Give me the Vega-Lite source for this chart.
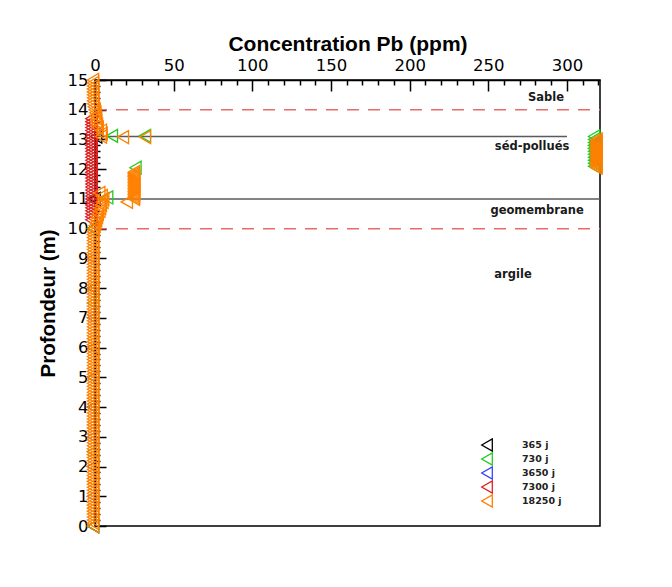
{
  "$schema": "https://vega.github.io/schema/vega-lite/v6.json",
  "autosize": {"type": "none"},
  "width": 505,
  "height": 446,
  "padding": {"left": 95, "top": 80, "right": 72, "bottom": 61},
  "background": "white",
  "config": {
    "font": "Liberation Sans",
    "view": {"stroke": "black", "strokeWidth": 1.5},
    "axis": {"domainColor": "black", "domainWidth": 1.5, "tickColor": "black", "tickWidth": 1.5, "labelColor": "black", "titleColor": "black", "grid": false, "labelFont": "DejaVu Sans", "titleFont": "Liberation Sans"}
  },
  "resolve": {"axis": {"x": "independent", "y": "independent"}},
  "layer": [
    {
      "data": {"values": [{"d": 14, "a": 0, "b": 321}, {"d": 10, "a": 0, "b": 321}]},
      "mark": {"type": "rule", "color": "#e86a6a", "strokeWidth": 1.5, "strokeDash": [12, 9]},
      "encoding": {
        "x": {"field": "a", "type": "quantitative", "scale": {"domain": [0, 321], "nice": false, "zero": false},
              "axis": {"orient": "top", "title": null, "values": [10,20,30,40,60,70,80,90,110,120,130,140,160,170,180,190,210,220,230,240,260,270,280,290,310,320], "labels": false, "domain": false, "tickSize": -5}},
        "x2": {"field": "b"},
        "y": {"field": "d", "type": "quantitative", "scale": {"domain": [0, 15], "nice": false, "zero": false},
              "axis": {"orient": "left", "title": null, "labels": false, "domain": false, "tickSize": -5,
                       "values": [0.2,0.4,0.6,0.8,1.2,1.4,1.6,1.8,2.2,2.4,2.6,2.8,3.2,3.4,3.6,3.8,4.2,4.4,4.6,4.8,5.2,5.4,5.6,5.8,6.2,6.4,6.6,6.8,7.2,7.4,7.6,7.8,8.2,8.4,8.6,8.8,9.2,9.4,9.6,9.8,10.2,10.4,10.6,10.8,11.2,11.4,11.6,11.8,12.2,12.4,12.6,12.8,13.2,13.4,13.6,13.8,14.2,14.4,14.6,14.8]}}
      }
    },
    {
      "data": {"values": [{"d": 13.1, "a": 0, "b": 300}, {"d": 11.0, "a": 0, "b": 321}]},
      "mark": {"type": "rule", "color": "#5a5a5a", "strokeWidth": 1.5},
      "encoding": {
        "x": {"field": "a", "type": "quantitative", "axis": null},
        "x2": {"field": "b"},
        "y": {"field": "d", "type": "quantitative", "axis": null}
      }
    },
    {
      "data": {"values": [
        {"t":"365 j","d":0,"c":0},{"t":"365 j","d":2,"c":0},{"t":"365 j","d":4,"c":0},{"t":"365 j","d":6,"c":0},{"t":"365 j","d":8,"c":0},{"t":"365 j","d":10,"c":0},
        {"t":"365 j","d":12.3,"c":320},{"t":"365 j","d":12.6,"c":320},{"t":"365 j","d":12.9,"c":320},{"t":"365 j","d":13.1,"c":2},{"t":"365 j","d":11.0,"c":1},
        {"t":"730 j","d":0,"c":0},{"t":"730 j","d":2.5,"c":0},{"t":"730 j","d":5,"c":0},{"t":"730 j","d":7.5,"c":0},{"t":"730 j","d":10,"c":0},
        {"t":"730 j","d":13.12,"c":12},{"t":"730 j","d":13.12,"c":33},{"t":"730 j","d":12.05,"c":27},{"t":"730 j","d":11.05,"c":9},
        {"t":"730 j","d":12.1,"c":318.5},{"t":"730 j","d":12.2,"c":318.5},{"t":"730 j","d":12.3,"c":318.5},{"t":"730 j","d":12.4,"c":318.5},{"t":"730 j","d":12.5,"c":318.5},{"t":"730 j","d":12.6,"c":318.5},{"t":"730 j","d":12.7,"c":318.5},{"t":"730 j","d":12.8,"c":318.5},{"t":"730 j","d":12.9,"c":318.5},{"t":"730 j","d":13.0,"c":318.5},{"t":"730 j","d":13.1,"c":318.5},
        {"t":"3650 j","d":1,"c":0},{"t":"3650 j","d":3,"c":0},{"t":"3650 j","d":5,"c":0},{"t":"3650 j","d":7,"c":0},{"t":"3650 j","d":9,"c":0},{"t":"3650 j","d":12.4,"c":320},{"t":"3650 j","d":12.8,"c":320},
        {"t":"7300 j","d":10.3,"c":-1},{"t":"7300 j","d":10.4,"c":-1},{"t":"7300 j","d":10.5,"c":-1},{"t":"7300 j","d":10.6,"c":-1},{"t":"7300 j","d":10.7,"c":-1},{"t":"7300 j","d":10.8,"c":-1},{"t":"7300 j","d":10.9,"c":-1},
        {"t":"7300 j","d":11.0,"c":-1},{"t":"7300 j","d":11.1,"c":-1},{"t":"7300 j","d":11.2,"c":-1},{"t":"7300 j","d":11.3,"c":-1},{"t":"7300 j","d":11.4,"c":-1},{"t":"7300 j","d":11.5,"c":-1},{"t":"7300 j","d":11.6,"c":-1},{"t":"7300 j","d":11.7,"c":-1},{"t":"7300 j","d":11.8,"c":-1},{"t":"7300 j","d":11.9,"c":-1},
        {"t":"7300 j","d":12.0,"c":-1},{"t":"7300 j","d":12.1,"c":-1},{"t":"7300 j","d":12.2,"c":-1},{"t":"7300 j","d":12.3,"c":-1},{"t":"7300 j","d":12.4,"c":-1},{"t":"7300 j","d":12.5,"c":-1},{"t":"7300 j","d":12.6,"c":-1},{"t":"7300 j","d":12.7,"c":-1},{"t":"7300 j","d":12.8,"c":-1},{"t":"7300 j","d":12.9,"c":-1},
        {"t":"7300 j","d":13.0,"c":-1},{"t":"7300 j","d":13.1,"c":-1},{"t":"7300 j","d":13.2,"c":-1},{"t":"7300 j","d":13.3,"c":-1},{"t":"7300 j","d":13.4,"c":-1},{"t":"7300 j","d":13.5,"c":-1},{"t":"7300 j","d":13.6,"c":-1},{"t":"7300 j","d":13.7,"c":-1},
        {"t":"18250 j","d":0.0,"c":0},{"t":"18250 j","d":0.1,"c":0},{"t":"18250 j","d":0.2,"c":0},{"t":"18250 j","d":0.3,"c":0},{"t":"18250 j","d":0.4,"c":0},{"t":"18250 j","d":0.5,"c":0},{"t":"18250 j","d":0.6,"c":0},{"t":"18250 j","d":0.7,"c":0},{"t":"18250 j","d":0.8,"c":0},{"t":"18250 j","d":0.9,"c":0},
        {"t":"18250 j","d":1.0,"c":0},{"t":"18250 j","d":1.1,"c":0},{"t":"18250 j","d":1.2,"c":0},{"t":"18250 j","d":1.3,"c":0},{"t":"18250 j","d":1.4,"c":0},{"t":"18250 j","d":1.5,"c":0},{"t":"18250 j","d":1.6,"c":0},{"t":"18250 j","d":1.7,"c":0},{"t":"18250 j","d":1.8,"c":0},{"t":"18250 j","d":1.9,"c":0},
        {"t":"18250 j","d":2.0,"c":0},{"t":"18250 j","d":2.1,"c":0},{"t":"18250 j","d":2.2,"c":0},{"t":"18250 j","d":2.3,"c":0},{"t":"18250 j","d":2.4,"c":0},{"t":"18250 j","d":2.5,"c":0},{"t":"18250 j","d":2.6,"c":0},{"t":"18250 j","d":2.7,"c":0},{"t":"18250 j","d":2.8,"c":0},{"t":"18250 j","d":2.9,"c":0},
        {"t":"18250 j","d":3.0,"c":0},{"t":"18250 j","d":3.1,"c":0},{"t":"18250 j","d":3.2,"c":0},{"t":"18250 j","d":3.3,"c":0},{"t":"18250 j","d":3.4,"c":0},{"t":"18250 j","d":3.5,"c":0},{"t":"18250 j","d":3.6,"c":0},{"t":"18250 j","d":3.7,"c":0},{"t":"18250 j","d":3.8,"c":0},{"t":"18250 j","d":3.9,"c":0},
        {"t":"18250 j","d":4.0,"c":0},{"t":"18250 j","d":4.1,"c":0},{"t":"18250 j","d":4.2,"c":0},{"t":"18250 j","d":4.3,"c":0},{"t":"18250 j","d":4.4,"c":0},{"t":"18250 j","d":4.5,"c":0},{"t":"18250 j","d":4.6,"c":0},{"t":"18250 j","d":4.7,"c":0},{"t":"18250 j","d":4.8,"c":0},{"t":"18250 j","d":4.9,"c":0},
        {"t":"18250 j","d":5.0,"c":0},{"t":"18250 j","d":5.1,"c":0},{"t":"18250 j","d":5.2,"c":0},{"t":"18250 j","d":5.3,"c":0},{"t":"18250 j","d":5.4,"c":0},{"t":"18250 j","d":5.5,"c":0},{"t":"18250 j","d":5.6,"c":0},{"t":"18250 j","d":5.7,"c":0},{"t":"18250 j","d":5.8,"c":0},{"t":"18250 j","d":5.9,"c":0},
        {"t":"18250 j","d":6.0,"c":0},{"t":"18250 j","d":6.1,"c":0},{"t":"18250 j","d":6.2,"c":0},{"t":"18250 j","d":6.3,"c":0},{"t":"18250 j","d":6.4,"c":0},{"t":"18250 j","d":6.5,"c":0},{"t":"18250 j","d":6.6,"c":0},{"t":"18250 j","d":6.7,"c":0},{"t":"18250 j","d":6.8,"c":0},{"t":"18250 j","d":6.9,"c":0},
        {"t":"18250 j","d":7.0,"c":0},{"t":"18250 j","d":7.1,"c":0},{"t":"18250 j","d":7.2,"c":0},{"t":"18250 j","d":7.3,"c":0},{"t":"18250 j","d":7.4,"c":0},{"t":"18250 j","d":7.5,"c":0},{"t":"18250 j","d":7.6,"c":0},{"t":"18250 j","d":7.7,"c":0},{"t":"18250 j","d":7.8,"c":0},{"t":"18250 j","d":7.9,"c":0},
        {"t":"18250 j","d":8.0,"c":0},{"t":"18250 j","d":8.1,"c":0},{"t":"18250 j","d":8.2,"c":0},{"t":"18250 j","d":8.3,"c":0},{"t":"18250 j","d":8.4,"c":0},{"t":"18250 j","d":8.5,"c":0},{"t":"18250 j","d":8.6,"c":0},{"t":"18250 j","d":8.7,"c":0},{"t":"18250 j","d":8.8,"c":0},{"t":"18250 j","d":8.9,"c":0},
        {"t":"18250 j","d":9.0,"c":0},{"t":"18250 j","d":9.1,"c":0},{"t":"18250 j","d":9.2,"c":0},{"t":"18250 j","d":9.3,"c":0},{"t":"18250 j","d":9.4,"c":0},{"t":"18250 j","d":9.5,"c":0},{"t":"18250 j","d":9.6,"c":0},{"t":"18250 j","d":9.7,"c":0},{"t":"18250 j","d":9.8,"c":0},{"t":"18250 j","d":9.9,"c":0},
        {"t":"18250 j","d":10.0,"c":0.5},{"t":"18250 j","d":10.1,"c":1},{"t":"18250 j","d":10.2,"c":1.5},{"t":"18250 j","d":10.3,"c":2},{"t":"18250 j","d":10.4,"c":2.5},{"t":"18250 j","d":10.5,"c":3},{"t":"18250 j","d":10.6,"c":4},{"t":"18250 j","d":10.7,"c":4.5},{"t":"18250 j","d":10.8,"c":5},{"t":"18250 j","d":10.9,"c":6},{"t":"18250 j","d":11.0,"c":6.5},{"t":"18250 j","d":11.1,"c":5.5},{"t":"18250 j","d":11.2,"c":4},
        {"t":"18250 j","d":10.9,"c":21.5},
        {"t":"18250 j","d":11.0,"c":26},{"t":"18250 j","d":11.05,"c":26},{"t":"18250 j","d":11.1,"c":26},{"t":"18250 j","d":11.15,"c":26},{"t":"18250 j","d":11.2,"c":26},{"t":"18250 j","d":11.25,"c":26},{"t":"18250 j","d":11.3,"c":26},{"t":"18250 j","d":11.35,"c":26},{"t":"18250 j","d":11.4,"c":26},{"t":"18250 j","d":11.45,"c":26},
        {"t":"18250 j","d":11.5,"c":26},{"t":"18250 j","d":11.55,"c":26},{"t":"18250 j","d":11.6,"c":26},{"t":"18250 j","d":11.65,"c":26},{"t":"18250 j","d":11.7,"c":26},{"t":"18250 j","d":11.75,"c":26},{"t":"18250 j","d":11.8,"c":26},{"t":"18250 j","d":11.85,"c":26},{"t":"18250 j","d":11.9,"c":26},
        {"t":"18250 j","d":13.08,"c":19},{"t":"18250 j","d":13.08,"c":33},
        {"t":"18250 j","d":13.1,"c":5},{"t":"18250 j","d":13.2,"c":5.5},{"t":"18250 j","d":13.3,"c":5},{"t":"18250 j","d":13.4,"c":3},{"t":"18250 j","d":13.5,"c":2.5},{"t":"18250 j","d":13.6,"c":2},{"t":"18250 j","d":13.7,"c":2},{"t":"18250 j","d":13.8,"c":1.5},{"t":"18250 j","d":13.9,"c":1.5},
        {"t":"18250 j","d":14.0,"c":1},{"t":"18250 j","d":14.1,"c":0.5},{"t":"18250 j","d":14.2,"c":0},{"t":"18250 j","d":14.3,"c":0},{"t":"18250 j","d":14.4,"c":0},{"t":"18250 j","d":14.5,"c":0},{"t":"18250 j","d":14.6,"c":0},{"t":"18250 j","d":14.7,"c":0},{"t":"18250 j","d":14.8,"c":0},{"t":"18250 j","d":14.9,"c":0},{"t":"18250 j","d":15.0,"c":0},
        {"t":"18250 j","d":12.05,"c":320},{"t":"18250 j","d":12.1,"c":320},{"t":"18250 j","d":12.15,"c":320},{"t":"18250 j","d":12.2,"c":320},{"t":"18250 j","d":12.25,"c":320},{"t":"18250 j","d":12.3,"c":320},{"t":"18250 j","d":12.35,"c":320},{"t":"18250 j","d":12.4,"c":320},{"t":"18250 j","d":12.45,"c":320},{"t":"18250 j","d":12.5,"c":320},
        {"t":"18250 j","d":12.55,"c":320},{"t":"18250 j","d":12.6,"c":320},{"t":"18250 j","d":12.65,"c":320},{"t":"18250 j","d":12.7,"c":320},{"t":"18250 j","d":12.75,"c":320},{"t":"18250 j","d":12.8,"c":320},{"t":"18250 j","d":12.85,"c":320},{"t":"18250 j","d":12.9,"c":320},{"t":"18250 j","d":12.95,"c":320},{"t":"18250 j","d":13.0,"c":320}
      ]},
      "mark": {"type": "point", "shape": "triangle-left", "filled": false, "size": 170, "strokeWidth": 1.3, "opacity": 1, "xOffset": -2, "clip": false},
      "encoding": {
        "x": {"field": "c", "type": "quantitative",
              "axis": {"orient": "top", "title": "Concentration Pb (ppm)", "values": [0,50,100,150,200,250,300], "tickSize": -11, "labelFontSize": 16.5, "labelPadding": 18, "titleFontSize": 21, "titleFontWeight": "bold", "titlePadding": 3, "labelFlush": false}},
        "y": {"field": "d", "type": "quantitative",
              "axis": {"orient": "left", "title": "Profondeur (m)", "values": [0,1,2,3,4,5,6,7,8,9,10,11,12,13,14,15], "tickSize": -11, "labelFontSize": 16.5, "labelPadding": 18, "titleFontSize": 20.5, "titleFontWeight": "bold", "titlePadding": 9, "labelFlush": false}},
        "color": {"field": "t", "type": "nominal",
                  "scale": {"domain": ["365 j", "730 j", "3650 j", "7300 j", "18250 j"], "range": ["#000000", "#22cc22", "#3344ff", "#dd2222", "#ff8000"]},
                  "legend": {"orient": "none", "legendX": 385, "legendY": 358, "title": null, "symbolType": "triangle-left", "symbolSize": 150, "symbolStrokeWidth": 1.3, "symbolFillColor": "transparent", "labelFont": "DejaVu Sans", "labelFontSize": 9.5, "labelFontWeight": "bold", "labelColor": "#222", "labelOffset": 28, "rowPadding": 0, "clipHeight": 14, "padding": 0}}
      }
    },
    {
      "data": {"values": [
        {"lab": "Sable", "c": 286.7, "d": 14.39},
        {"lab": "séd-pollués", "c": 277.8, "d": 12.74},
        {"lab": "geomembrane", "c": 281, "d": 10.59},
        {"lab": "argile", "c": 265.7, "d": 8.43}
      ]},
      "mark": {"type": "text", "font": "DejaVu Sans", "fontSize": 11.5, "fontWeight": "bold", "color": "#1a1a1a", "align": "center", "baseline": "middle"},
      "encoding": {
        "x": {"field": "c", "type": "quantitative", "axis": null},
        "y": {"field": "d", "type": "quantitative", "axis": null},
        "text": {"field": "lab"}
      }
    }
  ]
}
